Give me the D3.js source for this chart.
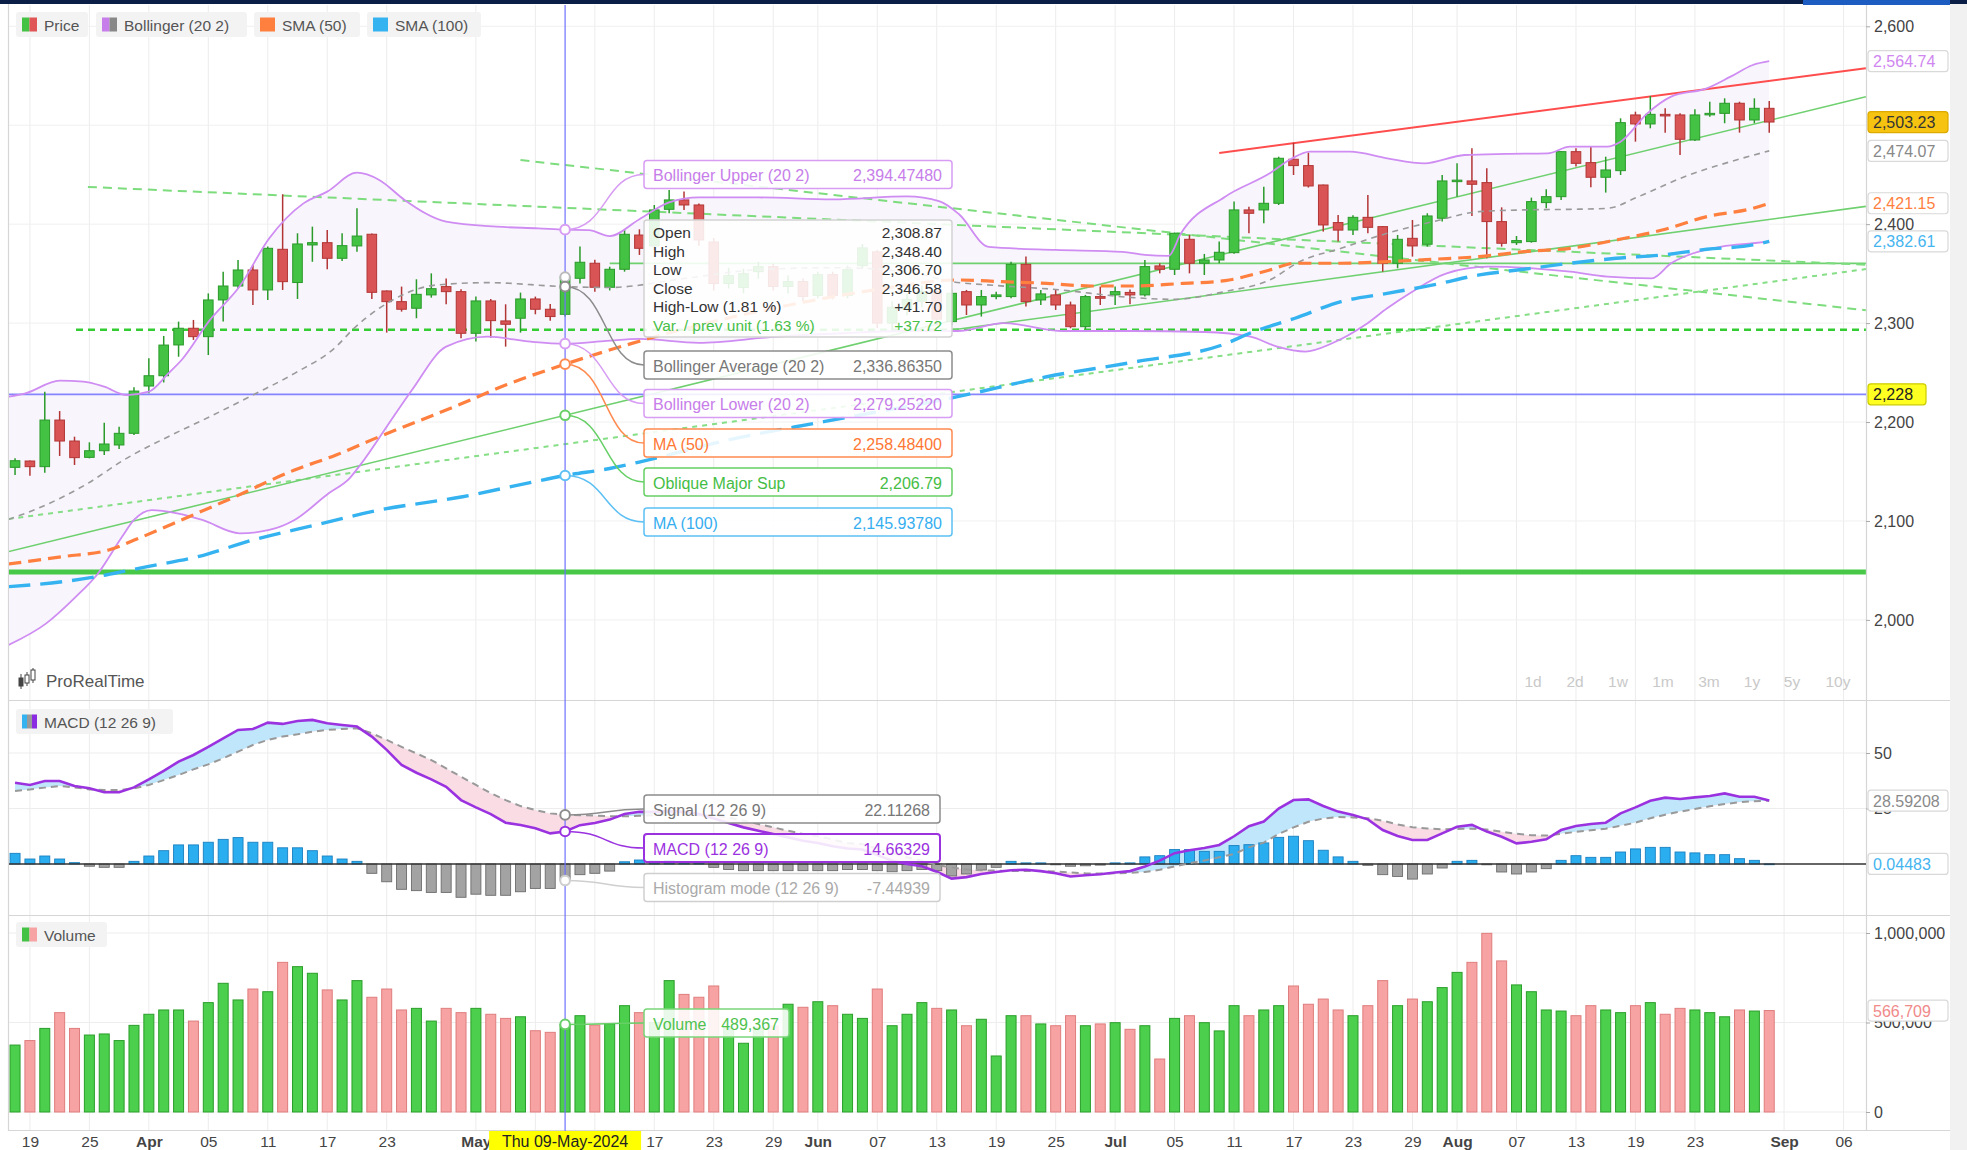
<!DOCTYPE html>
<html><head><meta charset="utf-8">
<script src="https://cdn.jsdelivr.net/npm/d3@7"></script>
<style>
html,body{margin:0;padding:0;background:#fff;overflow:hidden;}
svg{display:block;font-family:"Liberation Sans",Arial,sans-serif;}
</style></head><body>
<svg id="c" width="1967" height="1150"></svg>
<script>
// ---------------- DATA ----------------
const openP = [2154.2,2160.6,2154.9,2202.0,2180.8,2164.3,2171.0,2176.8,2188.6,2236.4,
2246.8,2277.9,2294.8,2286.3,2323.4,2337.5,2353.7,2333.5,2374.6,2341.0,
2379.0,2381.3,2365.5,2378.0,2389.8,2332.5,2321.7,2315.0,2328.5,2336.9,
2331.8,2289.7,2322.4,2302.2,2304.9,2324.4,2314.0,2308.87,2345.3,2360.5,
2336.2,2354.4,2389.0,2378.0,2415.0,2424.5,2419.4,2382.0,2340.0,2336.0,
2352.0,2357.0,2337.0,2342.0,2328.0,2349.0,2328.0,2358.0,2372.0,2300.0,
2314.0,2322.0,2332.0,2301.5,2331.8,2318.3,2326.8,2326.8,2359.4,2323.4,
2328.5,2318.3,2296.4,2326.8,2328.5,2331.0,2328.5,2357.8,2354.4,2384.7,
2360.5,2363.8,2371.2,2414.4,2414.4,2421.1,2465.6,2459.2,2439.6,2401.6,
2394.1,2406.9,2397.5,2360.5,2385.7,2379.7,2406.0,2443.7,2443.7,2442.0,
2402.6,2381.3,2382.4,2421.8,2427.8,2473.3,2462.2,2447.4,2454.1,2510.4,
2501.3,2511.0,2510.4,2485.1,2511.0,2512.0,2522.2,2505.3,2517.1];
const highP = [2163.3,2161.0,2230.7,2211.1,2185.2,2179.5,2199.3,2195.3,2235.1,2264.4,
2287.0,2301.5,2303.2,2330.0,2352.0,2363.8,2358.8,2377.3,2430.2,2390.8,
2397.5,2394.2,2390.8,2416.0,2390.5,2333.0,2336.9,2344.3,2350.3,2345.0,
2334.2,2326.8,2324.4,2319.0,2330.8,2326.8,2319.4,2348.40,2377.3,2364.0,
2357.0,2394.8,2394.8,2419.4,2434.6,2432.9,2421.0,2386.0,2356.0,2355.0,
2362,2360,2348,2345,2352,2352,2358,2380,2374,2322,
2330,2338,2336,2334.0,2333.5,2333.5,2331.8,2362.0,2367.2,2333.5,
2333.5,2321.7,2328.5,2336.9,2336.9,2334.0,2363.8,2360.5,2391.5,2389.1,
2369.9,2382.4,2422.8,2417.7,2437.9,2468.2,2482.4,2472.3,2440.0,2409.3,
2409.0,2429.5,2398.0,2389.1,2404.2,2411.0,2449.7,2461.5,2476.7,2456.5,
2417.0,2388.0,2426.8,2435.2,2474.0,2476.7,2478.4,2468.2,2507.0,2513.7,
2529.6,2517.1,2512.0,2516.1,2523.8,2527.2,2523.8,2527.2,2524.5];
const lowP = [2146.5,2145.8,2148.8,2165.7,2156.6,2163.3,2166.7,2172.7,2186.9,2229.0,
2240.0,2266.0,2283.0,2267.7,2301.5,2335.0,2318.3,2323.4,2333.5,2324.4,
2362.0,2354.4,2362.8,2372.2,2324.4,2290.4,2311.6,2304.9,2325.7,2319.0,
2284.6,2281.3,2285.3,2276.2,2290.4,2308.9,2302.5,2306.70,2340.0,2331.8,
2333.0,2352.0,2368.9,2374.0,2411.0,2414.4,2378.0,2333.0,2335.0,2330.0,
2345,2333,2330,2322,2325,2324,2325,2355,2295,2292,
2308,2316,2298,2298.0,2308.2,2306.6,2324.0,2325.0,2316.7,2318.3,
2313.3,2294.8,2294.0,2318.3,2318.3,2319.0,2326.8,2350.3,2348.6,2350.3,
2348.6,2360.5,2370.0,2390.8,2400.9,2419.4,2449.7,2437.0,2392.5,2382.4,
2389.1,2390.8,2352.0,2355.4,2367.2,2377.3,2402.6,2427.8,2408.3,2365.5,
2377.3,2379.0,2381.3,2416.0,2424.5,2458.2,2437.3,2431.9,2449.7,2483.4,
2496.9,2492.5,2470.0,2484.0,2508.7,2502.0,2492.5,2502.0,2492.5];
const closeP = [2160.9,2154.9,2202.0,2180.8,2164.0,2171.0,2177.8,2188.6,2231.3,2246.8,
2277.8,2294.8,2286.3,2323.4,2337.5,2353.7,2333.5,2375.6,2341.9,2380.0,
2381.3,2365.5,2378.3,2388.0,2331.1,2321.7,2314.0,2329.1,2334.8,2331.8,
2289.7,2322.4,2302.5,2298.8,2324.4,2314.0,2306.6,2346.58,2361.5,2336.2,
2354.4,2389.8,2375.6,2414.4,2424.5,2419.4,2384.0,2340.0,2348.0,2350.0,
2357,2337,2342,2327,2349,2328,2354,2376,2300,2316,
2324,2332,2304,2330.1,2318.3,2326.8,2328.5,2359.4,2321.7,2329.5,
2318.3,2296.4,2326.8,2325.1,2331.8,2328.5,2357.1,2354.4,2390.8,2360.5,
2363.8,2371.6,2414.4,2411.0,2421.1,2466.6,2459.2,2438.6,2399.2,2394.0,
2406.9,2396.8,2360.5,2384.7,2378.0,2408.3,2443.7,2444.5,2440.3,2402.6,
2380.7,2383.4,2422.8,2427.8,2473.3,2461.5,2447.4,2454.8,2502.6,2501.3,
2511.0,2509.4,2485.8,2510.4,2512.0,2522.2,2505.3,2517.1,2503.23];
// volume in thousands
const volumeK = [374,399,467,555,467,430,436,399,484,546,
570,570,508,611,719,626,687,672,836,812,
775,682,626,734,641,687,570,579,508,579,
555,579,546,523,532,454,445,489.367,538,486,
492,594,555,500,734,657,641,704,470,384,
470,480,602,585,616,594,546,523,687,482,
546,611,579,570,482,518,313,538,538,492,
482,538,482,492,499,462,482,296,523,538,
499,453,594,538,570,594,704,602,631,570,
538,594,734,594,631,616,695,780,836,998,
844,710,672,570,564,538,594,570,555,594,
611,546,579,570,555,532,570,564,566.709];
const macdLine = [36.6,35.6,37.4,37.4,35.1,34.1,32.3,32.3,34.5,38.1,
42.0,46.1,49.1,52.8,56.6,60.4,60.8,63.7,63.1,64.4,
64.9,63.4,62.6,61.9,57.4,51.4,44.6,41.1,38.1,34.8,
28.8,25.5,22.5,18.6,17.6,16.1,13.8,14.66329,17.5,18.5,
20.0,22.5,23.5,23.5,23.8,23.5,22.5,20.5,18.5,16.5,
15.0,13.5,12.0,10.5,9.5,8.0,7.0,6.5,4.0,1.5,
0.0,-1.0,-3.5,-6.6,-5.9,-4.5,-3.6,-2.8,-2.6,-3.2,
-4.2,-5.6,-5.1,-4.6,-3.8,-3.2,-1.1,1.5,4.9,6.2,
7.2,8.6,12.5,17.0,19.1,25.0,28.8,29.1,26.1,23.6,
22.1,20.1,15.3,12.6,10.8,10.8,13.8,16.8,17.6,14.6,
12.3,9.3,10.0,11.1,15.3,17.1,18.0,18.6,22.8,25.5,
28.5,29.9,29.3,30.0,30.6,31.8,30.3,30.3,28.59208];
const signalLine = [32.9,33.6,34.4,35.1,34.5,33.6,33.3,33.3,34.1,35.6,
37.8,40.1,42.6,44.9,47.6,50.6,53.6,55.9,57.4,58.4,
59.6,60.4,60.8,61.1,58.9,55.9,52.8,49.8,46.8,43.1,
39.3,35.6,31.9,28.8,26.1,24.3,22.8,22.11268,22.0,21.8,
21.5,21.5,21.7,22.0,22.3,22.3,22.0,21.8,21.0,19.5,
18.0,16.5,15.0,13.5,12.5,11.0,9.5,9.0,7.0,5.0,
3.0,1.5,-0.5,-1.5,-2.5,-2.8,-3.0,-3.2,-3.1,-3.2,
-3.4,-3.8,-4.2,-4.3,-4.2,-4.0,-3.6,-2.6,-1.1,0.3,
1.6,3.0,4.5,7.5,9.6,13.5,16.5,19.0,20.5,21.2,
21.0,20.6,19.5,17.8,16.6,16.0,15.6,15.8,15.9,15.5,
14.5,13.6,13.0,12.8,13.6,14.5,15.2,15.9,17.2,18.6,
20.6,22.2,23.6,24.8,26.0,27.0,27.8,28.3,28.5];
const histogram = [4.8,2.25,3.6,2.25,0.6,-1.0,-1.5,-1.5,1.2,3.6,
6.0,8.6,8.6,9.8,11.1,11.9,9.8,9.8,7.3,7.3,
6.0,3.6,2.25,1.2,-4.2,-8.0,-11.4,-12.0,-12.8,-12.8,
-15.0,-13.6,-14.1,-14.1,-12.5,-11.0,-11.0,-7.44939,-4.8,-4.2,
-3.2,1.0,1.8,1.5,1.5,1.2,0.5,-1.5,-2.5,-3.0,
-3.0,-3.0,-3.0,-3.0,-3.0,-3.0,-2.5,-2.5,-3.0,-3.5,
-3.0,-2.5,-3.0,-5.4,-4.5,-2.7,-1.5,1.2,0.5,0.5,
-0.3,-1.0,-0.8,-0.5,0.5,0.5,3.2,3.75,6.5,6.5,
5.7,5.7,8.3,8.7,9.5,12.0,12.5,10.5,6.2,3.2,
1.2,-0.6,-4.8,-5.6,-6.8,-4.5,-1.8,1.2,1.65,-0.3,
-3.6,-4.5,-3.6,-2.1,1.65,3.75,3.0,3.0,5.4,6.8,
7.5,7.5,5.4,5.0,4.2,4.2,2.4,1.65,0.04483];
// indicator lines read at points: [candle index, value]
const bbUpper = [[-0.45,2225.6],[0.7,2229],[3,2241.8],[4.6,2240.8],[6,2235.7],[7.5,2227.3],[9,2230.7],[10.3,2249],[11.2,2262.7],[13.1,2303],[15.1,2336.9],[17.1,2385.7],[19.4,2421],[21,2432.9],[23,2452],[24.5,2444.7],[26.2,2424.5],[29,2402.6],[32.4,2397.5],[35.2,2395.8],[37,2394.47],[38.6,2394],[40,2388],[42,2405],[44,2422],[46,2427],[50,2427],[55,2425],[60,2428],[62.2,2423],[63.5,2410],[65.5,2377],[70,2374],[74.5,2372],[76,2369],[77.6,2368],[78.4,2390],[81.4,2427.8],[84.4,2451.4],[85.8,2465.6],[87.1,2473.3],[89.8,2473.3],[92.3,2466.6],[94.8,2461.5],[97.5,2469.9],[100.3,2471],[103.1,2471.6],[104.6,2478.4],[107.1,2478.4],[108,2483.4],[109.8,2512],[111.4,2528.9],[113.8,2537.3],[115.4,2549.1],[116.9,2560.9],[118,2564.74]];
const bbLower = [[-0.45,1974.6],[2.1,1996.5],[4.1,2023.5],[5.5,2045.4],[7.2,2084.1],[8,2101],[9.2,2111],[10.9,2107.7],[12.6,2101],[15.1,2087.5],[17.1,2090.9],[18.8,2101],[21.1,2128],[22.5,2143.1],[23.3,2158.2],[25,2195.3],[26.7,2232.4],[29,2276.2],[31.8,2286.3],[34.7,2281.2],[37,2279.25],[39.8,2282],[42,2284],[46,2280],[51,2286],[56,2290],[60,2292],[63.4,2292],[66.5,2300],[70.5,2292],[75,2292],[80,2291],[83.1,2286.3],[84.9,2276.2],[86.8,2271.2],[88.6,2279.6],[90.8,2298],[92.3,2315],[93.8,2330],[96.3,2350.3],[99.1,2357],[102.1,2355.4],[104.6,2352],[107.1,2347],[110.1,2345.3],[111.4,2360.5],[112.9,2370.6],[114.8,2377.3],[116.9,2380.7],[118,2382.4]];
const bbMid = [[-0.45,2101.5],[1.8,2114.4],[4.7,2136.3],[7.5,2163.3],[10.3,2185.2],[13.1,2205.4],[16,2227.3],[18.8,2249.2],[21.6,2276.2],[22.8,2294.8],[24.5,2315],[28.4,2338.6],[31.8,2340.9],[37,2336.86],[40,2336],[45,2345],[50,2354],[55,2356],[60,2352],[63,2342],[66,2338],[70,2334],[75,2326],[78,2324],[81.4,2332],[84.4,2343.6],[86.4,2362],[89.2,2375.6],[92.3,2390.8],[95.4,2402.6],[98.5,2412.7],[101.5,2414.4],[104.6,2415],[107.1,2416],[109.2,2427.8],[112.3,2448],[115.4,2463.2],[118,2474.07]];
const sma50 = [[-0.45,2056.5],[3.2,2063.9],[6.3,2070.7],[8.3,2082.4],[11.7,2104.3],[14.8,2124.5],[18.8,2151.5],[21.6,2166.7],[24.5,2185.2],[27.3,2202],[30.1,2218.9],[33,2237.4],[37,2258.48],[41.5,2279.5],[46,2298],[52,2318],[58,2334],[63.4,2343.6],[66.4,2341.9],[69.4,2340.2],[72.4,2337.5],[75.4,2337.5],[78.4,2340],[81.4,2342.9],[84.4,2353.7],[86.1,2360.5],[89.2,2360.5],[92.3,2362.1],[95.4,2364.5],[98.5,2367.2],[101.5,2372.2],[104.6,2375.6],[107.7,2384],[110.8,2394.1],[113.8,2407.6],[116.9,2416],[118,2421.15]];
const sma100 = [[-0.45,2033.6],[3.2,2038.6],[6.1,2045.4],[8.9,2053.8],[12.3,2063.9],[16,2080.8],[20.2,2095.9],[24.5,2111],[30.1,2124.5],[34.4,2138],[37,2145.94],[40,2153],[42.4,2161],[48,2182],[54.4,2200.4],[63.4,2225.6],[69.4,2245.8],[75.4,2261],[81.4,2279],[83.1,2290],[86.1,2304.9],[89.2,2321.7],[92.3,2330.1],[95.4,2338.6],[98.5,2348.7],[101.5,2354.4],[104.6,2360.5],[107.7,2365.5],[110.8,2368.9],[113.8,2374.6],[116.9,2379],[118,2382.61]];
// drawn trend lines: [i1, p1, i2, p2]
const trendThick = [-0.45,2048.5,124.5,2048.5];
const trendDottedH = [4.1,2293.3,124.5,2293.3];
const trendSolidH = [40,2360.4,124.5,2360.4];
const trendDashA = [4.9,2437.6,124.5,2359.0];
const trendDashB = [34,2464.8,124.5,2313.0];
const trendDotRise = [-0.45,2102.0,124.5,2354.6];
const trendOblique = [-0.45,2069.0,124.5,2528.8];
const trendSupport2 = [63,2293.0,124.5,2418.0];
const trendResist = [81,2472.0,124.5,2557.5];
const crossPrice = 2228;
const crossIndex = 37;
// axis ticks
const priceGrid = [2000,2100,2200,2300,2400,2500,2600];
const priceTicks = [2000,2100,2200,2300,2400,2600];
const macdTicks = [25,50];
const volTicksK = [0,500,1000];
const gridIdx = [1,5,9,13,17,21,25,31,35,39,43,47,51,54,58,62,66,70,74,78,82,86,90,94,97,101,105,109,113,119,123];
const tickIdx = [1,5,9,13,17,21,25,31,43,47,51,54,58,62,66,70,74,78,82,86,90,94,97,101,105,109,113,119,123];
const tickText = ["19","25","Apr","05","11","17","23","May","17","23","29","Jun","07","13","19","25","Jul","05","11","17","23","29","Aug","07","13","19","23","Sep","06"];
const monthNames = ["Apr","May","Jun","Jul","Aug","Sep"];
// legends and labels
const legendNames = ["Price","Bollinger (20 2)","SMA (50)","SMA (100)"];
const priceBoxNames = ["Bollinger Upper (20 2)","Bollinger Average (20 2)","Bollinger Lower (20 2)","MA (50)","Oblique Major Sup","MA (100)"];
const priceBoxValues = [2394.47480,2336.86350,2279.25220,2258.48400,2206.79,2145.93780];
const priceBoxText = ["2,394.47480","2,336.86350","2,279.25220","2,258.48400","2,206.79","2,145.93780"];
const tipNames = ["Open","High","Low","Close","High-Low (1.81 %)","Var. / prev unit (1.63 %)"];
const tipValues = ["2,308.87","2,348.40","2,306.70","2,346.58","+41.70","+37.72"];
const macdBoxNames = ["Signal (12 26 9)","MACD (12 26 9)","Histogram mode (12 26 9)"];
const macdBoxValues = [22.11268,14.66329,-7.44939];
const macdBoxText = ["22.11268","14.66329","-7.44939"];
const volBoxName = "Volume", volBoxValueK = 489.367, volBoxText = "489,367";
const priceTags = [[2564.74,"2,564.74"],[2503.23,"2,503.23"],[2474.07,"2,474.07"],[2421.15,"2,421.15"],[2382.61,"2,382.61"],[2228,"2,228"]];
const macdTags = [[28.59208,"28.59208"],[0.04483,"0.04483"]];
const volTag = [566.709,"566,709"];
const timeButtons = ["1d","2d","1w","1m","3m","1y","5y","10y"];

// ---------------- DRAW ----------------
const svg = d3.select('#c');
const defs = svg.append('defs');
const PL = 9, PR = 1866;
const x = d3.scaleLinear().domain([0,118]).range([15.05, 15.05 + 118*14.866]);
const yP = d3.scaleLinear().domain([2000,2600]).range([619.9,26.3]);
const yM = d3.scaleLinear().domain([0,50]).range([864,753]);
const yV = d3.scaleLinear().domain([0,1000]).range([1112,933]);
const MAIN = [5,700], MACD = [701,915], VOL = [916,1130];

function clipRect(id,y0,y1){defs.append('clipPath').attr('id',id).append('rect').attr('x',PL).attr('y',y0).attr('width',PR-PL).attr('height',y1-y0);}
clipRect('cMain',MAIN[0],MAIN[1]); clipRect('cMacd',MACD[0],MACD[1]); clipRect('cVol',VOL[0],VOL[1]);

svg.append('rect').attr('width',1967).attr('height',1150).attr('fill','#fff');
svg.append('rect').attr('x',1950).attr('y',0).attr('width',17).attr('height',1150).attr('fill','#f1f1f1');

// grid
const grid = svg.append('g').attr('stroke','#ececec').attr('stroke-width',1);
gridIdx.forEach(i=>grid.append('line').attr('x1',x(i)).attr('x2',x(i)).attr('y1',MAIN[0]).attr('y2',VOL[1]));
priceGrid.forEach(v=>grid.append('line').attr('x1',PL).attr('x2',PR).attr('y1',yP(v)).attr('y2',yP(v)).attr('stroke','#f0f0f0'));
macdTicks.forEach(v=>grid.append('line').attr('x1',PL).attr('x2',PR).attr('y1',yM(v)).attr('y2',yM(v)).attr('stroke','#ededed'));
volTicksK.forEach(v=>grid.append('line').attr('x1',PL).attr('x2',PR).attr('y1',yV(v)).attr('y2',yV(v)).attr('stroke','#ededed'));

// frame lines
const frame = svg.append('g').attr('stroke','#d6d6d6').attr('stroke-width',1.2);
[700.5,915.5,1130.5].forEach(y=>frame.append('line').attr('x1',PL).attr('x2',1950).attr('y1',y).attr('y2',y));
frame.append('line').attr('x1',PR+0.5).attr('x2',PR+0.5).attr('y1',4).attr('y2',1131);
frame.append('line').attr('x1',8.5).attr('x2',8.5).attr('y1',4).attr('y2',1131);

// top bar
svg.append('rect').attr('x',0).attr('y',0).attr('width',1967).attr('height',4).attr('fill','#0b1e45');
svg.append('rect').attr('x',1803).attr('y',0).attr('width',147).attr('height',5).attr('fill','#1d5cc0');

const lineK = d3.line().x(d=>x(d[0])).y(d=>yP(d[1])).curve(d3.curveMonotoneX);

// ---- main panel
const main = svg.append('g').attr('clip-path','url(#cMain)');
// bollinger fill
defs.append('clipPath').attr('id','bbClip').append('path')
  .attr('d', d3.area().x(d=>x(d[0])).y0(MAIN[0]).y1(d=>yP(d[1])).curve(d3.curveMonotoneX)(bbLower));
main.append('path').attr('clip-path','url(#bbClip)')
  .attr('d', d3.area().x(d=>x(d[0])).y0(MAIN[1]).y1(d=>yP(d[1])).curve(d3.curveMonotoneX)(bbUpper))
  .attr('fill','#f8f5fc');

function tline(t,color,w,dash){
  const l = main.append('line').attr('x1',x(t[0])).attr('y1',yP(t[1])).attr('x2',x(t[2])).attr('y2',yP(t[3]))
    .attr('stroke',color).attr('stroke-width',w);
  if(dash) l.attr('stroke-dasharray',dash);
}
tline(trendThick,'#47c947',5);
tline(trendDottedH,'#33cc33',2.6,'7,5');
tline(trendSolidH,'#6fd06f',1.6);
tline(trendDashA,'#7ddc7d',2,'9,6');
tline(trendDashB,'#7ddc7d',2,'9,6');
tline(trendDotRise,'#86de86',2,'5,5');
tline(trendOblique,'#6fd06f',1.6);
tline(trendSupport2,'#6fd06f',1.6);
tline(trendResist,'#ff4d4d',2);
main.append('line').attr('x1',PL).attr('x2',PR).attr('y1',yP(crossPrice)).attr('y2',yP(crossPrice))
  .attr('stroke','#8585ff').attr('stroke-width',1.6);

// candles
const idx = d3.range(openP.length);
const up = i => closeP[i] >= openP[i];
const cg = main.append('g');
cg.selectAll('line').data(idx).join('line')
  .attr('x1',i=>x(i)).attr('x2',i=>x(i)).attr('y1',i=>yP(highP[i])).attr('y2',i=>yP(lowP[i]))
  .attr('stroke',i=>up(i)?'#2a9a2a':'#b23535').attr('stroke-width',1.5);
cg.selectAll('rect').data(idx).join('rect')
  .attr('x',i=>x(i)-4.8).attr('width',9.6)
  .attr('y',i=>yP(Math.max(openP[i],closeP[i])))
  .attr('height',i=>Math.max(1.5, yP(Math.min(openP[i],closeP[i]))-yP(Math.max(openP[i],closeP[i]))))
  .attr('fill',i=>up(i)?'#44c244':'#d95454').attr('stroke',i=>up(i)?'#2a9a2a':'#b23535').attr('stroke-width',1);

// indicator lines
main.append('path').attr('d',lineK(bbMid)).attr('fill','none').attr('stroke','#9a9a9a').attr('stroke-width',1.6).attr('stroke-dasharray','6,5');
main.append('path').attr('d',lineK(bbUpper)).attr('fill','none').attr('stroke','#cf8cf2').attr('stroke-width',1.8);
main.append('path').attr('d',lineK(bbLower)).attr('fill','none').attr('stroke','#cf8cf2').attr('stroke-width',1.8);
main.append('path').attr('d',lineK(sma50)).attr('fill','none').attr('stroke','#ff7f3f').attr('stroke-width',3.2).attr('stroke-dasharray','13,7');
main.append('path').attr('d',lineK(sma100)).attr('fill','none').attr('stroke','#35b2f0').attr('stroke-width',3.4).attr('stroke-dasharray','22,10');

// ---- MACD panel
const mg = svg.append('g').attr('clip-path','url(#cMacd)');
const mIdx = d3.range(macdLine.length);
defs.append('clipPath').attr('id','mAbove').append('path')
  .attr('d', d3.area().x(i=>x(i)).y0(MACD[0]).y1(i=>yM(signalLine[i]))(mIdx));
defs.append('clipPath').attr('id','mBelow').append('path')
  .attr('d', d3.area().x(i=>x(i)).y0(MACD[1]).y1(i=>yM(signalLine[i]))(mIdx));
const between = d3.area().x(i=>x(i)).y0(i=>yM(signalLine[i])).y1(i=>yM(macdLine[i]));
mg.append('path').attr('d',between(mIdx)).attr('fill','#bfe6fa').attr('clip-path','url(#mAbove)');
mg.append('path').attr('d',between(mIdx)).attr('fill','#fadce5').attr('clip-path','url(#mBelow)');
mg.selectAll('rect.h').data(mIdx).join('rect').attr('class','h')
  .attr('x',i=>x(i)-5).attr('width',10)
  .attr('y',i=>Math.min(yM(0),yM(histogram[i]))).attr('height',i=>Math.max(0.8,Math.abs(yM(histogram[i])-yM(0))))
  .attr('fill',i=>histogram[i]>=0?'#2aaef0':'#a3a3a3').attr('stroke',i=>histogram[i]>=0?'#1a80c0':'#6c6c6c').attr('stroke-width',0.9);
mg.append('line').attr('x1',PL).attr('x2',PR).attr('y1',yM(0)).attr('y2',yM(0)).attr('stroke','#333').attr('stroke-width',1.6);
mg.append('path').attr('d',d3.line().x(i=>x(i)).y(i=>yM(signalLine[i]))(mIdx)).attr('fill','none').attr('stroke','#999').attr('stroke-width',2).attr('stroke-dasharray','7,5');
mg.append('path').attr('d',d3.line().x(i=>x(i)).y(i=>yM(macdLine[i]))(mIdx)).attr('fill','none').attr('stroke','#9b32e0').attr('stroke-width',2.6);

// ---- Volume panel
const vg = svg.append('g').attr('clip-path','url(#cVol)');
vg.selectAll('rect').data(idx).join('rect')
  .attr('x',i=>x(i)-5).attr('width',10).attr('y',i=>yV(volumeK[i])).attr('height',i=>yV(0)-yV(volumeK[i]))
  .attr('fill',i=>up(i)?'#4ccf4c':'#f7a3a3').attr('stroke',i=>up(i)?'#2a9e2a':'#df7d7d').attr('stroke-width',1);

// crosshair vertical
svg.append('line').attr('x1',x(crossIndex)).attr('x2',x(crossIndex)).attr('y1',5).attr('y2',1131)
  .attr('stroke','#7070ff').attr('stroke-width',1.2);

// ---- axes
function styleAxis(g){g.select('.domain').remove();g.selectAll('line').attr('stroke','#aaa');g.selectAll('text').attr('fill','#444').style('font-size','16px').style('font-family','"Liberation Sans",Arial,sans-serif');}
svg.append('g').attr('transform',`translate(${PR},0)`).call(d3.axisRight(yP).tickValues(priceTicks).tickFormat(d3.format(',')).tickSize(4).tickPadding(4)).call(styleAxis);
svg.append('g').attr('transform',`translate(${PR},0)`).call(d3.axisRight(yM).tickValues(macdTicks).tickSize(4).tickPadding(4)).call(styleAxis);
svg.append('g').attr('transform',`translate(${PR},0)`).call(d3.axisRight(yV).tickValues(volTicksK).tickFormat(d=>d3.format(',')(d*1000)).tickSize(4).tickPadding(4)).call(styleAxis);
const xa = svg.append('g').attr('transform','translate(0,1131)')
  .call(d3.axisBottom(x).tickValues(tickIdx).tickFormat((d,k)=>tickText[k]).tickSize(0).tickPadding(5));
xa.select('.domain').remove();
xa.selectAll('text').attr('fill','#444').style('font-size','15.5px').style('font-family','"Liberation Sans",Arial,sans-serif')
  .style('font-weight',(d,k)=>monthNames.includes(tickText[k])?'bold':'normal');

// highlighted date
svg.append('rect').attr('x',x(crossIndex)-76).attr('y',1131).attr('width',152).attr('height',19).attr('fill','#ffff00');
svg.append('text').attr('x',x(crossIndex)).attr('y',1141).attr('text-anchor','middle').attr('dominant-baseline','central')
  .attr('fill','#222').style('font-size','16px').text('Thu 09-May-2024');

// value tags
function tag(y,txt,o){
  o=o||{};
  svg.append('rect').attr('x',1868).attr('y',y-10.5).attr('width',o.w||80).attr('height',21).attr('rx',3)
    .attr('fill',o.fill||'#fff').attr('stroke',o.stroke||'#d9d9d9').attr('stroke-width',1.2);
  svg.append('text').attr('x',1873).attr('y',y+0.5).attr('dominant-baseline','central').attr('fill',o.color||'#888')
    .style('font-size','16px').style('font-weight',o.bold?'bold':'normal').text(txt);
}
const tagStyles = [{color:'#cf86f0'},{fill:'#f5c310',stroke:'#dcaa00',color:'#333'},{color:'#888'},{color:'#ff7f3f'},{color:'#45b5f0'},{fill:'#ffff22',stroke:'#cccc00',color:'#222',w:58}];
priceTags.forEach((t,k)=>tag(yP(t[0]),t[1],tagStyles[k]));
tag(yM(macdTags[0][0]),macdTags[0][1],{color:'#8a8a8a'});
tag(yM(macdTags[1][0]),macdTags[1][1],{color:'#45b5f0'});
tag(yV(volTag[0]),volTag[1],{color:'#f08a8a'});

// ---- labels with connectors
const bx = 644;
function connector(y0,y1,color){
  const x0 = x(crossIndex);
  svg.append('path').attr('d',`M${x0},${y0} C${x0+42},${y0} ${bx-40},${y1} ${bx},${y1}`)
    .attr('fill','none').attr('stroke',color).attr('stroke-width',1.5);
}
function labelBox(yc,w,name,val,color,stroke,sw){
  svg.append('rect').attr('x',bx).attr('y',yc-14).attr('width',w).attr('height',28).attr('rx',3)
    .attr('fill','#fff').attr('fill-opacity',0.88).attr('stroke',stroke).attr('stroke-width',sw||1.5);
  svg.append('text').attr('x',bx+9).attr('y',yc+1).attr('dominant-baseline','central').attr('fill',color).style('font-size','16px').text(name);
  svg.append('text').attr('x',bx+w-10).attr('y',yc+1).attr('text-anchor','end').attr('dominant-baseline','central').attr('fill',color).style('font-size','16px').text(val);
}
function marker(y,color){
  svg.append('circle').attr('cx',x(crossIndex)).attr('cy',y).attr('r',4.8).attr('fill','#fff').attr('stroke',color).attr('stroke-width',2);
}
const pbY = [174.5,365,403.5,443,482,522];
const pbColor = ['#c77dea','#777','#c77dea','#ff7733','#45bd45','#35aef0'];
const pbStroke = ['#d79cf3','#8c8c8c','#d79cf3','#ff8a4f','#66cf66','#5cc0f4'];
priceBoxValues.forEach((v,k)=>connector(yP(v),pbY[k],pbStroke[k]));
// tooltip
svg.append('rect').attr('x',bx).attr('y',220).attr('width',308).attr('height',117).attr('rx',3)
  .attr('fill','#fff').attr('fill-opacity',0.88).attr('stroke','#d2d2d2').attr('stroke-width',1.5);
tipNames.forEach((n,k)=>{
  const yy = 232.5 + k*18.5, col = k===5?'#48c048':'#333';
  svg.append('text').attr('x',bx+9).attr('y',yy).attr('dominant-baseline','central').attr('fill',col).style('font-size','15.5px').text(n);
  svg.append('text').attr('x',bx+298).attr('y',yy).attr('text-anchor','end').attr('dominant-baseline','central').attr('fill',col).style('font-size','15.5px').text(tipValues[k]);
});
priceBoxNames.forEach((n,k)=>labelBox(pbY[k],308,n,priceBoxText[k],pbColor[k],pbStroke[k]));
marker(yP(closeP[crossIndex]),'#bbb');
priceBoxValues.forEach((v,k)=>marker(yP(v),pbStroke[k]));

const mbY = [809,848,887.5];
const mbColor = ['#777','#9b32e0','#aaa'];
const mbStroke = ['#8c8c8c','#9b32e0','#cfcfcf'];
macdBoxValues.forEach((v,k)=>connector(yM(v),mbY[k],mbStroke[k]));
macdBoxNames.forEach((n,k)=>labelBox(mbY[k],296,n,macdBoxText[k],mbColor[k],mbStroke[k],k===1?2:1.5));
macdBoxValues.forEach((v,k)=>marker(yM(v),mbStroke[k]));

connector(yV(volBoxValueK),1023,'#66cf66');
labelBox(1023,145,volBoxName,volBoxText,'#4fc24f','#7ad67a');
marker(yV(volBoxValueK),'#66cf66');

// ---- legends
function legend(xl,yl,w,name,cols){
  svg.append('rect').attr('x',xl).attr('y',yl).attr('width',w).attr('height',25).attr('rx',3).attr('fill','#f3f3f3');
  const iw = 15/cols.length;
  cols.forEach((c,k)=>svg.append('rect').attr('x',xl+6+k*iw).attr('y',yl+5.5).attr('width',iw).attr('height',14).attr('fill',c));
  svg.append('text').attr('x',xl+28).attr('y',yl+13).attr('dominant-baseline','central').attr('fill','#555').style('font-size','15.5px').text(name);
}
legend(16,12,72,legendNames[0],['#44c244','#e05555']);
legend(96,12,151,legendNames[1],['#c77dea','#888']);
legend(254,12,106,legendNames[2],['#ff7f3f']);
legend(367,12,114,legendNames[3],['#35b2f0']);
legend(16,709,157,'MACD (12 26 9)',['#35b2f0','#999','#8a2be2']);
legend(16,922,91,'Volume',['#44c244','#f7a3a3']);

// ProRealTime mark
const pr = svg.append('g').attr('fill','#444').attr('stroke','#444');
[[21,674,689,678,686],[27,672,686,675,683],[33,668,683,670,680]].forEach(c=>{
  pr.append('line').attr('x1',c[0]).attr('x2',c[0]).attr('y1',c[1]).attr('y2',c[2]).attr('stroke-width',1);
  pr.append('rect').attr('x',c[0]-2).attr('y',c[3]).attr('width',4).attr('height',c[4]-c[3]).attr('fill',c[0]===21?'#444':'#fff');
});
svg.append('text').attr('x',46).attr('y',681).attr('dominant-baseline','central').attr('fill','#555').style('font-size','17px').text('ProRealTime');

// time buttons
const tbX = [1533,1575,1618,1663,1709,1752,1792,1838];
timeButtons.forEach((t,k)=>svg.append('text').attr('x',tbX[k]).attr('y',681).attr('text-anchor','middle').attr('dominant-baseline','central')
  .attr('fill','#c9c9c9').style('font-size','15.5px').text(t));
</script>
</body></html>
